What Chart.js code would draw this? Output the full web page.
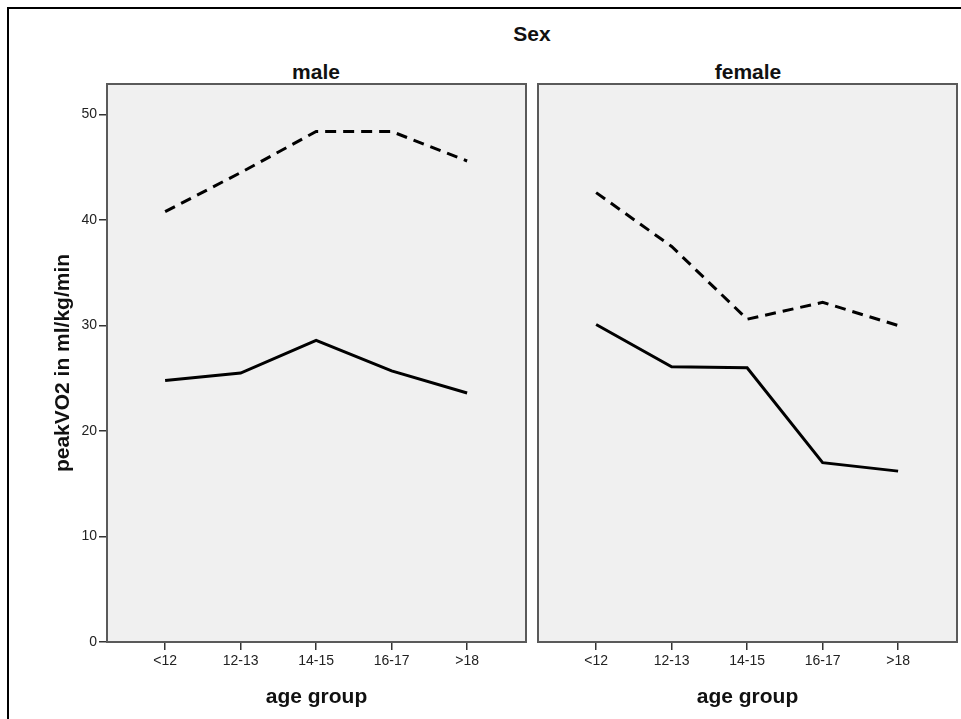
<!DOCTYPE html>
<html>
<head>
<meta charset="utf-8">
<script src="https://cdn.jsdelivr.net/npm/chart.js@4.4.1/dist/chart.umd.min.js"></script>
<style>
  html, body { margin: 0; padding: 0; background: #fff; overflow: hidden; }
  body { width: 961px; height: 719px; position: relative; font-family: "Liberation Sans", Arial, sans-serif; }
  .frame { position: absolute; left: 7px; top: 7px; width: 1000px; height: 1000px; border: 2px solid #000; }
  .hd { position: absolute; font-weight: bold; font-size: 21px; color: #111; transform: translateX(-50%); white-space: nowrap; }
  canvas { position: absolute; top: 0; }
</style>
</head>
<body>
<div class="frame"></div>
<div class="hd" style="left:532px; top:22px;">Sex</div>
<div class="hd" style="left:316px; top:60px;">male</div>
<div class="hd" style="left:748px; top:60px;">female</div>
<div id="w1" style="position:absolute;left:0;top:0;width:532px;height:719px;"><canvas id="c1"></canvas></div>
<div id="w2" style="position:absolute;left:532px;top:0;width:429px;height:719px;"><canvas id="c2"></canvas></div>

<script>
/* ---- DATA --------------------------------------------------- */
const AGE_GROUPS = ['<12', '12-13', '14-15', '16-17', '>18'];
const Y_TICKS = [0, 10, 20, 30, 40, 50];

const MALE_DASHED   = [40.8, 44.5, 48.4, 48.4, 45.6];
const MALE_SOLID    = [24.8, 25.5, 28.6, 25.7, 23.6];
const FEMALE_DASHED = [42.6, 37.5, 30.6, 32.2, 30.0];
const FEMALE_SOLID  = [30.1, 26.1, 26.0, 17.0, 16.2];

const pts = vals => vals.map((v, i) => ({ x: i, y: v }));

/* ---- PANEL BACKGROUND + FRAME ------------------------------- */
const panel = {
  id: 'panel',
  beforeDatasetsDraw(chart) {
    const a = chart.chartArea, ctx = chart.ctx;
    ctx.save();
    ctx.fillStyle = '#f0f0f0';
    ctx.fillRect(a.left, a.top, a.right - a.left, a.bottom - a.top);
    ctx.restore();
  },
  afterDatasetsDraw(chart) {
    const a = chart.chartArea, ctx = chart.ctx;
    ctx.save();
    ctx.strokeStyle = '#5a5a5a';
    ctx.lineWidth = 2;
    ctx.strokeRect(a.left, a.top, a.right - a.left, a.bottom - a.top);
    ctx.restore();
  }
};

function makeChart(id, dashed, solid, withY) {
  const tickFont = { family: '"Liberation Sans", Arial, sans-serif', size: 14 };
  const titleFont = { family: '"Liberation Sans", Arial, sans-serif', size: 21, weight: 'bold' };
  return new Chart(document.getElementById(id), {
    type: 'line',
    data: {
      datasets: [
        { label: 'dashed', data: pts(dashed), borderColor: '#000', borderWidth: 3,
          borderDash: [11, 7], pointRadius: 0, tension: 0, fill: false },
        { label: 'solid', data: pts(solid), borderColor: '#000', borderWidth: 3,
          pointRadius: 0, tension: 0, fill: false }
      ]
    },
    options: {
      responsive: true,
      maintainAspectRatio: false,
      animation: false,
      events: [],
      layout: { padding: withY ? { top: 84, left: 0, right: 6, bottom: 0 } : { top: 84, left: 6, right: 4, bottom: 0 } },
      plugins: { legend: { display: false }, tooltip: { enabled: false } },
      scales: {
        x: {
          type: 'linear', min: -0.77, max: 4.78,
          afterFit: s => { s.height = 77; },
          ticks: { stepSize: 1, includeBounds: false, color: '#222', font: tickFont, padding: 3,
                   callback: v => AGE_GROUPS[v] },
          grid: { drawOnChartArea: false, drawTicks: true, tickLength: 8, color: '#333', lineWidth: 1.5 },
          border: { display: true, color: '#5a5a5a', width: 2 },
          title: { display: true, text: 'age group', color: '#111', font: titleFont, padding: { top: 0, bottom: 9 } }
        },
        y: {
          display: withY,
          min: 0, max: 52.9,
          afterFit: s => { s.width = withY ? 107 : 0; },
          afterBuildTicks: s => { s.ticks = Y_TICKS.map(v => ({ value: v })); },
          ticks: { color: '#222', font: tickFont, padding: 2 },
          grid: { drawOnChartArea: false, drawTicks: true, tickLength: 8, color: '#333', lineWidth: 1.5 },
          border: { display: true, color: '#5a5a5a', width: 2 },
          title: { display: true, text: 'peakVO2 in ml/kg/min', color: '#111', font: titleFont, padding: { top: 51 } }
        }
      }
    },
    plugins: [panel]
  });
}

makeChart('c1', MALE_DASHED, MALE_SOLID, true);
makeChart('c2', FEMALE_DASHED, FEMALE_SOLID, false);
</script>
</body>
</html>
